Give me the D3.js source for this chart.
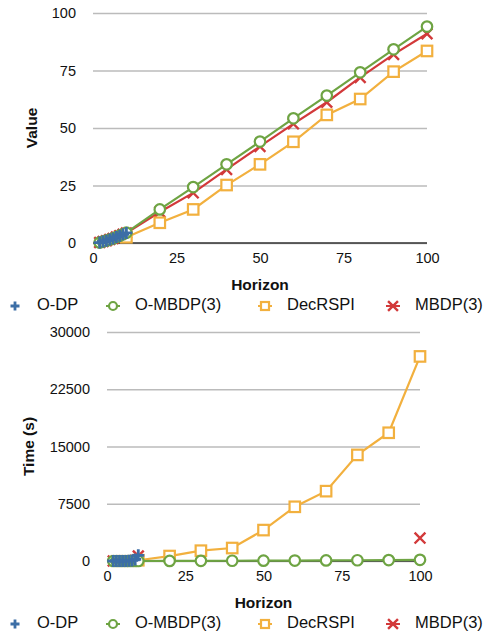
<!DOCTYPE html>
<html>
<head>
<meta charset="utf-8">
<script src="https://cdn.jsdelivr.net/npm/d3@7"></script>
<style>
  body { margin: 0; background: #fff; }
  svg text { font-family: "Liberation Sans", Arial, Helvetica, sans-serif; fill: #111; }
</style>
</head>
<body>
<script>
// Series data (horizon -> value / time)
var odpHorizon = [2, 3, 4, 5, 6, 7, 8, 9, 10];
var odpValue   = [0.2, 0.6, 1.0, 1.5, 2.0, 2.6, 3.2, 3.8, 4.4];
var odpTime    = [0, 0, 0, 0, 10, 30, 80, 200, 750];

var ombdpHorizon = [2, 3, 4, 5, 6, 7, 8, 9, 10, 20, 30, 40, 50, 60, 70, 80, 90, 100];
var ombdpValue   = [0.2, 0.6, 1.0, 1.5, 2.0, 2.6, 3.2, 3.8, 4.5, 14.6, 24.3, 34.2, 44.1, 54.2, 64.1, 74.2, 84.2, 94.1];
var ombdpTime    = [0, 0, 0, 0, 0, 1, 1, 2, 3, 10, 20, 30, 45, 60, 80, 100, 120, 150];

var decrspiHorizon = [10, 20, 30, 40, 50, 60, 70, 80, 90, 100];
var decrspiValue   = [2.5, 8.8, 14.6, 25.2, 34.2, 44.0, 55.7, 62.6, 74.5, 83.5];
var decrspiTime    = [100, 650, 1350, 1700, 4050, 7100, 9150, 13900, 16800, 26800];

var mbdpHorizon = [2, 3, 4, 5, 6, 7, 8, 9, 10, 20, 30, 40, 50, 60, 70, 80, 90, 100];
var mbdpValue   = [0.2, 0.6, 1.0, 1.5, 2.0, 2.6, 3.2, 3.8, 4.3, 13.5, 21.8, 32.0, 42.0, 51.8, 61.2, 72.0, 82.0, 91.0];
var mbdpTime    = [0, 0, 0, 0, 1, 2, 5, 60, 650, null, null, null, null, null, null, null, null, 3000];

var xTicks = [0, 25, 50, 75, 100];
var valueTicks = [0, 25, 50, 75, 100];
var timeTicks = [0, 7500, 15000, 22500, 30000];

var seriesNames = ["O-DP", "O-MBDP(3)", "DecRSPI", "MBDP(3)"];
var colors = {"O-DP": "#3c6ea6", "O-MBDP(3)": "#6ea443", "DecRSPI": "#f2b03e", "MBDP(3)": "#d2393a"};
var shapes = {"O-DP": "plus", "O-MBDP(3)": "circle", "DecRSPI": "square", "MBDP(3)": "cross"};

var svg = d3.select("body").append("svg")
    .attr("width", 487)
    .attr("height", 633);

function zip(xs, ys) {
    return xs.map(function(x, i) { return {x: x, y: ys[i]}; });
}

// Draw one marker into g at (x, y)
function marker(g, shape, color, x, y, s) {
    if (shape === "circle") {
        g.append("circle").attr("cx", x).attr("cy", y).attr("r", s * 0.5)
            .attr("fill", "#fff").attr("stroke", color).attr("stroke-width", 2.2);
    } else if (shape === "square") {
        g.append("rect").attr("x", x - s / 2).attr("y", y - s / 2)
            .attr("width", s).attr("height", s)
            .attr("fill", "#fff").attr("stroke", color).attr("stroke-width", 2.2);
    } else if (shape === "plus") {
        var h = s * 0.5;
        g.append("path").attr("d", "M" + (x - h) + "," + y + "H" + (x + h) + "M" + x + "," + (y - h) + "V" + (y + h))
            .attr("stroke", color).attr("stroke-width", 2.8).attr("fill", "none");
    } else {
        var c = s * 0.45;
        g.append("path").attr("d", "M" + (x - c) + "," + (y - c) + "L" + (x + c) + "," + (y + c)
                + "M" + (x + c) + "," + (y - c) + "L" + (x - c) + "," + (y + c))
            .attr("stroke", color).attr("stroke-width", 2.4).attr("fill", "none");
    }
}

function drawPanel(cfg) {
    var x = d3.scaleLinear().domain([0, 100]).range([cfg.left, cfg.right]);
    var y = d3.scaleLinear().domain(cfg.yDomain).range([cfg.bottom, cfg.top]);
    var g = svg.append("g");

    // Gridlines + y tick labels
    var yAxis = g.append("g")
        .attr("transform", "translate(" + cfg.left + ",0)")
        .call(d3.axisLeft(y).tickValues(cfg.yTicks).tickFormat(d3.format("d"))
            .tickSize(-(cfg.right - cfg.left)).tickPadding(17));
    yAxis.select(".domain").remove();
    yAxis.selectAll("line").attr("stroke", "#bbb").attr("stroke-width", 1.3);
    yAxis.selectAll("text").style("font-size", "14.5px").attr("fill", "#111");

    // Baseline
    g.append("line")
        .attr("x1", cfg.left).attr("x2", cfg.right)
        .attr("y1", y(0)).attr("y2", y(0))
        .attr("stroke", "#333").attr("stroke-width", 1.5);

    // x tick labels
    var xAxis = g.append("g")
        .attr("transform", "translate(0," + cfg.bottom + ")")
        .call(d3.axisBottom(x).tickValues(xTicks).tickFormat(d3.format("d")).tickSize(0).tickPadding(10));
    xAxis.select(".domain").remove();
    xAxis.selectAll("text").style("font-size", "14.5px").attr("fill", "#111");

    // Axis titles
    g.append("text")
        .attr("x", (cfg.left + cfg.right) / 2).attr("y", cfg.xTitleY)
        .attr("text-anchor", "middle").attr("dominant-baseline", "middle")
        .style("font-size", "15.5px").style("font-weight", "bold")
        .text("Horizon");
    g.append("text")
        .attr("transform", "translate(" + cfg.yTitleX + "," + ((cfg.top + cfg.bottom) / 2) + ") rotate(-90)")
        .attr("text-anchor", "middle").attr("dominant-baseline", "middle")
        .style("font-size", "15.5px").style("font-weight", "bold")
        .text(cfg.yTitle);

    // Series, drawn last-to-first so O-DP is on top
    var line = d3.line()
        .defined(function(d) { return d.y !== null; })
        .x(function(d) { return x(d.x); })
        .y(function(d) { return y(d.y); });

    cfg.series.slice().reverse().forEach(function(s) {
        var pts = zip(s.h, s.v);
        var sg = g.append("g");
        sg.append("path").datum(pts)
            .attr("d", line)
            .attr("fill", "none")
            .attr("stroke", colors[s.name])
            .attr("stroke-width", 2.2);
        pts.filter(function(d) { return d.y !== null; }).forEach(function(d) {
            var size = s.name === "MBDP(3)" ? 12 : (s.name === "O-DP" ? 12 : 10.5);
            marker(sg, shapes[s.name], colors[s.name], x(d.x), y(d.y), size);
        });
    });

    // Legend
    var legendX = [15, 113, 265, 393];
    seriesNames.forEach(function(name, i) {
        var lg = g.append("g");
        var cx = legendX[i];
        if (name !== "O-DP") {
            lg.append("line")
                .attr("x1", cx - 7).attr("x2", cx + 7)
                .attr("y1", cfg.legendY).attr("y2", cfg.legendY)
                .attr("stroke", colors[name]).attr("stroke-width", 2);
        }
        marker(lg, shapes[name], colors[name], cx, cfg.legendY, name === "MBDP(3)" ? 11 : (name === "O-DP" ? 9 : 8));
        lg.append("text")
            .attr("x", cx + 22).attr("y", cfg.legendY)
            .attr("dominant-baseline", "middle")
            .style("font-size", "16.5px")
            .text(name);
    });
}

drawPanel({
    left: 93, right: 427, top: 13, bottom: 243,
    yDomain: [0, 100], yTicks: valueTicks, yTitle: "Value",
    yTitleX: 33, xTitleY: 286, legendY: 306,
    series: [
        {name: "O-DP", h: odpHorizon, v: odpValue},
        {name: "O-MBDP(3)", h: ombdpHorizon, v: ombdpValue},
        {name: "DecRSPI", h: decrspiHorizon, v: decrspiValue},
        {name: "MBDP(3)", h: mbdpHorizon, v: mbdpValue}
    ]
});

drawPanel({
    left: 107, right: 420, top: 332, bottom: 561,
    yDomain: [0, 30000], yTicks: timeTicks, yTitle: "Time (s)",
    yTitleX: 30, xTitleY: 604, legendY: 624,
    series: [
        {name: "O-DP", h: odpHorizon, v: odpTime},
        {name: "O-MBDP(3)", h: ombdpHorizon, v: ombdpTime},
        {name: "DecRSPI", h: decrspiHorizon, v: decrspiTime},
        {name: "MBDP(3)", h: mbdpHorizon, v: mbdpTime}
    ]
});
</script>
</body>
</html>
